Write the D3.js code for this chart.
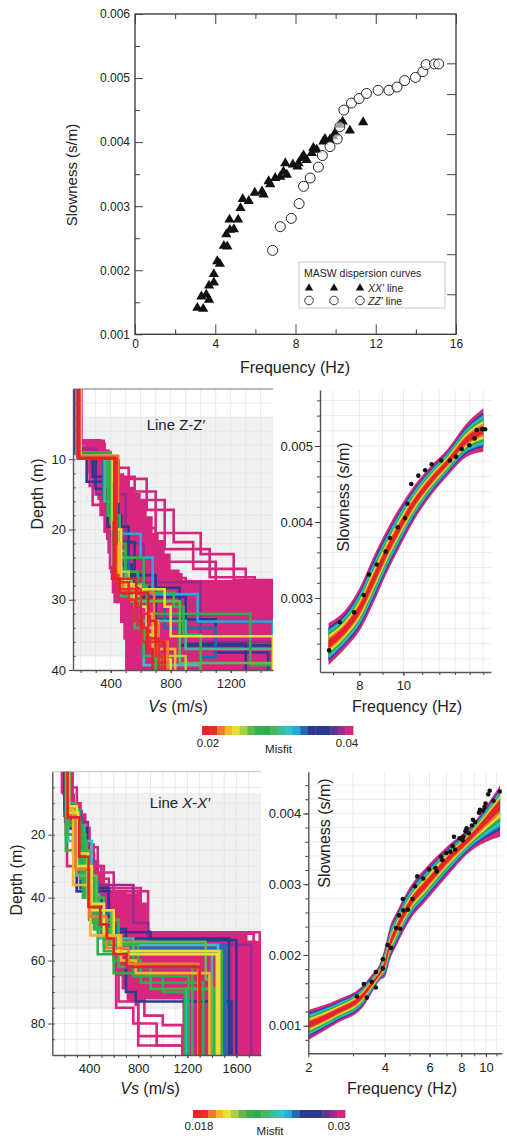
<!DOCTYPE html>
<html>
<head>
<meta charset="utf-8">
<script src="https://cdn.jsdelivr.net/npm/d3@7"></script>
<style>
  body { margin: 0; background: #fff; }
  svg { display: block; font-family: "Liberation Sans", Arial, Helvetica, sans-serif; }
</style>
</head>
<body>
<svg id="fig" width="507" height="1139"></svg>
<script>
// ---------------- MASW dispersion picks ----------------
const xxFreq = [3.11, 3.40, 3.31, 3.55, 3.69, 3.69, 3.93, 3.93, 4.10, 4.23, 4.43, 4.60, 4.55, 4.73, 4.93, 4.71,
  5.14, 5.26, 5.37, 5.67, 5.97, 6.33, 6.41, 6.66, 6.74, 6.99, 7.24, 7.40, 7.49, 7.57, 7.87, 8.15, 8.10, 8.31,
  8.40, 8.56, 8.81, 8.89, 9.06, 9.39, 9.47, 9.72, 9.88, 9.97, 10.21, 10.35, 10.71, 11.37];
const xxSlow = [0.001413, 0.001397, 0.00159, 0.00162, 0.00154, 0.00176, 0.00181, 0.00194, 0.00214, 0.00210,
  0.00238, 0.00237, 0.00256, 0.00263, 0.00264, 0.00279, 0.00279, 0.00297, 0.00311, 0.00308, 0.00321, 0.00323,
  0.00318, 0.00339, 0.00334, 0.00344, 0.00346, 0.00354, 0.00367, 0.00349, 0.00365, 0.00367, 0.00362, 0.00375,
  0.00379, 0.00372, 0.00383, 0.00391, 0.00388, 0.00401, 0.00405, 0.00404, 0.00409, 0.00414, 0.00427, 0.00432,
  0.00418, 0.00431];
const zzFreq = [6.86, 7.24, 7.79, 8.18, 8.40, 8.73, 9.14, 9.34, 9.72, 10.08, 10.21, 10.41, 10.79, 11.17, 11.54,
  12.12, 12.66, 13.06, 13.44, 13.98, 14.35, 14.51, 14.93, 15.14];
const zzSlow = [0.00231, 0.00268, 0.00281, 0.00304, 0.00331, 0.00344, 0.00361, 0.00379, 0.00393, 0.00405,
  0.00424, 0.00450, 0.00461, 0.00468, 0.00476, 0.00481, 0.00481, 0.00486, 0.00496, 0.00501, 0.00510, 0.00521,
  0.00522, 0.00522];

// top panel ticks
const topFreqTicks = [0, 4, 8, 12, 16];
const topFreqMinor = [2, 6, 10, 14];
const topSlowTicks = [0.001, 0.002, 0.003, 0.004, 0.005, 0.006];
const topSlowMinor = [0.0015, 0.0025, 0.0035, 0.0045, 0.0055];
const topRightTicks = [0.001625, 0.00225, 0.002875, 0.0035, 0.004125, 0.00475, 0.00523];

// ---------------- misfit colour scale ----------------
const misfitColors = ["#e5232a", "#e8312b", "#ee7b2b", "#f4b62b", "#eadd35", "#a9cf43", "#5fba47", "#38b14b",
  "#2cae4b", "#49b662", "#3fbb95", "#37bfca", "#27a8e0", "#1f6cb2", "#2b3990", "#2b3990", "#2d3a91",
  "#5b3795", "#9b2a8e", "#d7267e"];
const zzMisfitRange = [0.02, 0.04];
const xxMisfitRange = [0.018, 0.03];

// ---------------- Line Z-Z' inversion: Vs profiles ----------------
// envelope of the accepted model family (depth m, min Vs, max Vs)
const zzEnvDepth = [7.2, 8.6, 10, 12, 12.9, 13.9, 14.8, 15.8, 18.1, 20.5, 21.5, 23.4, 25.7, 26.2, 27.2, 29.1, 30.5, 33.3, 35.7, 40];
const zzEnvLeft  = [229, 229, 251, 273, 284, 302, 311, 324, 351, 369, 378, 387, 396, 400, 407, 418, 462, 484, 496, 502];
const zzEnvRight = [362, 396, 462, 490, 520, 560, 600, 640, 680, 720, 760, 800, 860, 880, 1482, 1482, 1482, 1482, 1482, 1482];
// individual models: misfit and layer list [top depth, Vs]
const zzProfileMisfit = [0.0395, 0.0395, 0.0395, 0.0395, 0.0395, 0.0385, 0.0355, 0.0362, 0.0335, 0.0325, 0.0315,
  0.0285, 0.0275, 0.0255, 0.0245, 0.0235, 0.0225, 0.0212, 0.0208, 0.0203,
  0.0345, 0.0305, 0.028, 0.0265, 0.024, 0.0218];
const zzProfileLayers = [
  [[0,170],[7.3,330],[12.5,560],[14.6,700],[20.5,1000],[23.5,1220],[27.2,1482]],
  [[0,205],[7.5,300],[12.8,640],[17.2,820],[21.8,950],[25.6,1300],[29,1400],[33,1482]],
  [[0,160],[8.8,260],[13.8,480],[19.8,700],[24.6,1100],[28.3,1482]],
  [[0,182],[7.8,360],[11.2,520],[15.8,760],[22.8,1060],[26.8,1360],[31.2,1200],[35,1482]],
  [[0,195],[8.2,280],[16.5,560],[23.2,740],[26.9,900],[28.6,1150],[32.5,1000],[37,1300]],
  [[0,175],[8.5,300],[15,500],[22,620],[27.5,1000],[36,1482]],
  [[0,165],[9.2,240],[13.2,380],[19.6,520],[26.5,700],[32.8,1100],[37.5,1450]],
  [[0,178],[9.5,300],[14.2,450],[21.8,560],[29.6,900],[36.3,1300]],
  [[0,186],[9.6,350],[15.5,420],[24,520],[29,760],[34,1100],[38.2,1000]],
  [[0,190],[9.7,420],[17,440],[20.6,600],[24,680],[29.2,980],[33.1,1482]],
  [[0,172],[9.4,380],[14,410],[25,470],[28,560],[31,640],[36,620],[39.3,1000]],
  [[0,200],[9,400],[15,420],[22,500],[26,580],[28,640],[32,1330],[39.3,1482]],
  [[0,185],[9.8,380],[18,460],[24,620],[29,820],[31,885],[35,1000]],
  [[0,195],[9.6,410],[20,450],[26,520],[29.5,600],[34,700],[38,900]],
  [[0,200],[9.5,420],[13,440],[20,470],[27,500],[28.5,760],[31,800],[35.2,1482]],
  [[0,190],[9.8,440],[22,460],[28,600],[32,680],[37,830]],
  [[0,195],[9.5,450],[16,440],[27,480],[29,690],[33,720],[36,780]],
  [[0,190],[9.9,440],[22,430],[27.5,520],[30,560],[33,610],[36,700],[38,740]],
  [[0,180],[9.8,425],[27,460],[29,650],[33,700],[36,760]],
  [[0,185],[9.9,430],[19,420],[27,570],[31,600],[34,640],[37,680]],
  [[0,175],[9.2,280],[12.5,400],[18,470],[25,540],[28.3,860],[36.5,1482]],
  [[0,188],[9.6,360],[16,430],[23,500],[27.8,600],[33,900],[37,1482]],
  [[0,192],[9.7,400],[19,440],[26.5,470],[29.5,560],[34,620],[38,700]],
  [[0,180],[9.8,420],[21,450],[27.2,540],[30.2,860],[39,1482]],
  [[0,186],[9.9,435],[24,455],[27.8,560],[31,640],[35,720],[38.5,800]],
  [[0,183],[9.9,430],[26.5,450],[28.5,600],[32,650],[35.5,720]]
];

// ---------------- Line X-X' inversion: Vs profiles ----------------
const xxEnvDepth = [0, 3.2, 6.9, 10, 12.1, 13.2, 17.4, 22.7, 28, 32.2, 33.3, 35.4, 37.6, 38.6, 41.7, 42.8, 47, 48.1, 50.2, 50.7, 51.2, 53.8, 55.5, 61.8, 65, 69.2, 72.4, 90];
const xxEnvLeft  = [168, 168, 217, 230, 244, 255, 285, 320, 352, 365, 374, 378, 385, 390, 405, 412, 474, 480, 569, 575, 585, 595, 601, 623, 664, 705, 1160, 1160];
const xxEnvRight = [276, 276, 285, 325, 350, 379, 412, 447, 482, 515, 525, 569, 705, 813, 854, 860, 875, 881, 900, 908, 1681, 1800, 1800, 1800, 1800, 1800, 1800, 1800];
const xxProfileMisfit = [0.0297, 0.0297, 0.0297, 0.0297, 0.0297, 0.0297, 0.0297, 0.0297, 0.029, 0.027, 0.0275,
  0.026, 0.0248, 0.024, 0.022, 0.0225, 0.023, 0.0222, 0.0228, 0.0207, 0.0201, 0.0195, 0.0185,
  0.0222, 0.0205, 0.0262, 0.0272, 0.0297, 0.0232];
const xxProfileLayers = [
  [[0,190],[7,250],[18,400],[38,880],[51,1790]],
  [[0,215],[10,330],[24,470],[37,820],[52,1680]],
  [[0,200],[12,290],[30,520],[42,860],[54,1750]],
  [[0,230],[15,360],[34,560],[50,780],[74,800],[84,1160]],
  [[0,210],[20,400],[42,700],[56,620],[75,760],[80,950],[87,1190]],
  [[0,220],[30,500],[52,640],[73,800],[87,1160]],
  [[0,250],[5,300],[38,800],[52,1660]],
  [[0,240],[9,270],[26,440],[46,660],[60,720],[72.5,850],[77.5,1000],[80.5,1160]],
  [[0,205],[16,390],[36,760],[48,880],[55,1720]],
  [[0,215],[18,380],[40,500],[50,700],[70,780],[73,1560]],
  [[0,200],[14,330],[37,560],[51,900],[53.5,1600]],
  [[0,225],[13,330],[28,430],[45,600],[55,1510]],
  [[0,230],[22,420],[42,520],[55,1450],[69,1190]],
  [[0,220],[17,360],[39,480],[53,760],[58,1400]],
  [[0,240],[14,300],[33,460],[44,580],[54,1350],[66,1400]],
  [[0,220],[20,370],[40,520],[57,1480]],
  [[0,225],[17,350],[40,470],[58,760],[65,1210]],
  [[0,210],[25,400],[47,640],[62,900],[69,1420]],
  [[0,230],[12,320],[30,430],[48,600],[60,820],[67,1330]],
  [[0,230],[11,300],[30,420],[44,600],[57,1460]],
  [[0,220],[12,270],[36,410],[52,660],[60,780],[64,1380]],
  [[0,215],[14,290],[31,400],[46,540],[56,720],[61,1290]],
  [[0,225],[14.5,320],[27,395],[43,490],[48.5,545],[53,600],[58,705],[62,1300]],
  [[0,235],[10,290],[22,380],[38,450],[50,560],[55,800],[62,1240]],
  [[0,225],[13,310],[26,390],[42,520],[52,640],[58,1440]],
  [[0,215],[15,340],[35,470],[49,620],[56,1500]],
  [[0,205],[12,300],[38,560],[53,1540]],
  [[0,235],[10,310],[32,600],[44,850],[51.5,1740]],
  [[0,228],[16,330],[34,440],[50,600],[64,1000],[70,1180]]
];

// ---------------- modelled dispersion bands ----------------
const zzBandFreq = [6.84, 7.50, 8.03, 8.59, 9.19, 9.83, 10.52, 11.45, 12.46, 13.79, 15.0];
const zzBandHigh = [0.002667, 0.002864, 0.003149, 0.003544, 0.003895, 0.004202, 0.004465, 0.004728, 0.004947, 0.005298, 0.005496];
const zzBandLow  = [0.002118, 0.002359, 0.002579, 0.00293, 0.003325, 0.003675, 0.004004, 0.004333, 0.004596, 0.004859, 0.004925];
const zzBandBest = [0.002395, 0.002614, 0.002864, 0.003237, 0.003609, 0.003938, 0.004237, 0.00453, 0.004772, 0.005079, 0.005211];
const xxBandFreq = [2.0, 2.59, 3.29, 3.55, 3.83, 4.01, 4.19, 4.46, 5.03, 5.85, 7.01, 8.66, 11.37];
const xxBandHigh = [0.001222, 0.001363, 0.001575, 0.001716, 0.001881, 0.002116, 0.002398, 0.00261, 0.002963, 0.003246, 0.003528, 0.003811, 0.0044];
const xxBandLow  = [0.000798, 0.001034, 0.001268, 0.001457, 0.001645, 0.001692, 0.001928, 0.00214, 0.002493, 0.002775, 0.003105, 0.003458, 0.00367];
const xxBandBest = [0.00101, 0.001198, 0.001434, 0.001589, 0.00174, 0.001881, 0.00214, 0.002376, 0.002729, 0.003011, 0.00334, 0.003661, 0.004141];
// misfit class of each nested band layer (index in the colour bar) and its relative spread
const bandLayerClass = [19, 15, 13, 12, 11, 8, 4, 2, 0];
const bandLayerSpread = [1.0, 0.8, 0.74, 0.68, 0.62, 0.55, 0.42, 0.3, 0.2];

// ---------------- drawing ----------------
const svg = d3.select("#fig");
const ink = "#222";
let clipId = 0;

function clipRect(x, y, w, h) {
  const id = "clip" + (clipId++);
  svg.append("clipPath").attr("id", id).append("rect").attr("x", x).attr("y", y).attr("width", w).attr("height", h);
  return "url(#" + id + ")";
}
function styleAxis(sel, fs) {
  sel.selectAll("text").attr("font-size", fs).attr("fill", ink);
  sel.selectAll(".tick line").attr("stroke", "#444");
  sel.select(".domain").attr("stroke", "#555").attr("stroke-width", 1.4);
}
function noDomain(sel) { sel.select(".domain").remove(); }

// ===== Top: dispersion picks =====
(function () {
  const x = d3.scaleLinear().domain([0, 16]).range([135, 456]);
  const y = d3.scaleLinear().domain([0.001, 0.006]).range([334.3, 14]);
  const g = svg.append("g");
  g.append("rect").attr("x", 135).attr("y", 14).attr("width", 321).attr("height", 320.3)
    .attr("fill", "none").attr("stroke", "#333").attr("stroke-width", 1.3);

  g.append("g").attr("transform", "translate(0,334.3)")
    .call(d3.axisBottom(x).tickValues(topFreqTicks).tickSize(-10).tickPadding(5).tickFormat(d3.format("d")))
    .call(noDomain).call(s => styleAxis(s, 12));
  g.append("g").attr("transform", "translate(0,334.3)")
    .call(d3.axisBottom(x).tickValues(topFreqMinor).tickSize(-5).tickFormat(() => "")).call(noDomain).call(s => styleAxis(s, 12));
  g.append("g").attr("transform", "translate(0,14)")
    .call(d3.axisTop(x).tickValues(topFreqTicks).tickSize(-10).tickFormat(() => "")).call(noDomain).call(s => styleAxis(s, 12));
  g.append("g").attr("transform", "translate(0,14)")
    .call(d3.axisTop(x).tickValues(topFreqMinor).tickSize(-5).tickFormat(() => "")).call(noDomain).call(s => styleAxis(s, 12));
  g.append("g").attr("transform", "translate(135,0)")
    .call(d3.axisLeft(y).tickValues(topSlowTicks).tickSize(-8).tickPadding(5).tickFormat(d3.format(".3f")))
    .call(noDomain).call(s => styleAxis(s, 12));
  g.append("g").attr("transform", "translate(135,0)")
    .call(d3.axisLeft(y).tickValues(topSlowMinor).tickSize(-5).tickFormat(() => "")).call(noDomain).call(s => styleAxis(s, 12));
  g.append("g").attr("transform", "translate(456,0)")
    .call(d3.axisRight(y).tickValues(topRightTicks).tickSize(-9).tickFormat(() => "")).call(noDomain).call(s => styleAxis(s, 12));

  g.append("text").attr("x", 295).attr("y", 373).attr("text-anchor", "middle").attr("font-size", 16).attr("fill", ink)
    .text("Frequency (Hz)");
  g.append("text").attr("transform", "translate(77,175) rotate(-90)").attr("text-anchor", "middle")
    .attr("font-size", 15).attr("fill", ink).text("Slowness (s/m)");

  const tri = d3.symbol(d3.symbolTriangle, 46);
  g.append("g").selectAll("path").data(d3.range(xxFreq.length)).join("path")
    .attr("transform", i => `translate(${x(xxFreq[i])},${y(xxSlow[i])})`).attr("d", tri).attr("fill", "#111");
  g.append("g").selectAll("circle").data(d3.range(zzFreq.length)).join("circle")
    .attr("cx", i => x(zzFreq[i])).attr("cy", i => y(zzSlow[i])).attr("r", 5)
    .attr("fill", "#fff").attr("fill-opacity", 0.6).attr("stroke", "#222").attr("stroke-width", 1);

  // legend
  const lg = g.append("g");
  lg.append("rect").attr("x", 299).attr("y", 262).attr("width", 146).attr("height", 46)
    .attr("fill", "#fff").attr("stroke", "#c8c8c8").attr("stroke-width", 1);
  lg.append("text").attr("x", 304).attr("y", 277).attr("font-size", 10.5).attr("fill", ink).text("MASW dispersion curves");
  [309, 334, 360].forEach(px => {
    lg.append("path").attr("transform", `translate(${px},288)`).attr("d", d3.symbol(d3.symbolTriangle, 30)).attr("fill", "#111");
    lg.append("circle").attr("cx", px).attr("cy", 300.5).attr("r", 4.3).attr("fill", "#fff").attr("stroke", "#222").attr("stroke-width", 0.9);
  });
  const t1 = lg.append("text").attr("x", 368).attr("y", 292).attr("font-size", 10.5).attr("fill", ink);
  t1.append("tspan").attr("font-style", "italic").text("XX′");
  t1.append("tspan").text(" line");
  const t2 = lg.append("text").attr("x", 368).attr("y", 305).attr("font-size", 10.5).attr("fill", ink);
  t2.append("tspan").attr("font-style", "italic").text("ZZ′");
  t2.append("tspan").text(" line");
})();

// ===== Vs profile panel =====
function profilePanel(o) {
  const x = d3.scaleLinear().domain(o.vel).range([o.left, o.right]);
  const y = d3.scaleLinear().domain([0, o.maxDepth]).range([o.top, o.bottom]);
  const color = d3.scaleQuantize().domain(o.misfitRange).range(misfitColors);
  const g = svg.append("g");
  const w = o.right - o.left, h = o.bottom - o.top;

  g.append("rect").attr("x", o.left).attr("y", y(o.shade[0])).attr("width", w)
    .attr("height", y(o.shade[1]) - y(o.shade[0])).attr("fill", "#f1f1f1");
  const grid = g.append("g").attr("stroke", "#e2e2e2").attr("stroke-width", 0.7);
  grid.selectAll("line.v").data(o.gridVel).join("line").attr("class", "v")
    .attr("x1", d => x(d)).attr("x2", d => x(d)).attr("y1", o.top).attr("y2", o.bottom);
  grid.selectAll("line.h").data(o.gridDepth).join("line").attr("class", "h")
    .attr("x1", o.left).attr("x2", o.right).attr("y1", d => y(d)).attr("y2", d => y(d));
  g.append("line").attr("x1", o.left).attr("x2", o.right).attr("y1", o.top).attr("y2", o.top)
    .attr("stroke", o.topLine).attr("stroke-width", 1.2);

  const clip = clipRect(o.left, o.top, w, h);
  const plot = g.append("g").attr("clip-path", clip);

  const env = d3.range(o.envDepth.length).map(i => [o.envDepth[i], o.envLeft[i], o.envRight[i]]);
  plot.append("path")
    .attr("d", d3.area().y(d => y(d[0])).x0(d => x(d[1])).x1(d => x(d[2])).curve(d3.curveStepBefore)(env))
    .attr("fill", misfitColors[19]);

  const line = d3.line().x(d => x(d[1])).y(d => y(d[0])).curve(d3.curveStepBefore);
  const order = d3.range(o.misfit.length).sort((a, b) => o.misfit[b] - o.misfit[a]);
  plot.selectAll("path.prof").data(order).join("path").attr("class", "prof")
    .attr("d", i => {
      const L = o.layers[i];
      return line(L.concat([[o.maxDepth + 2, L[L.length - 1][1]]]));
    })
    .attr("fill", "none").attr("stroke", i => color(o.misfit[i])).attr("stroke-width", 2.6);

  g.append("g").attr("transform", `translate(${o.left},0)`)
    .call(d3.axisLeft(y).tickValues(o.depthMinor).tickSize(-2.5).tickFormat(() => "")).call(noDomain).call(s => styleAxis(s, 13));
  g.append("g").attr("transform", `translate(0,${o.bottom})`)
    .call(d3.axisBottom(x).tickValues(o.velMinor).tickSize(3).tickFormat(() => "")).call(noDomain).call(s => styleAxis(s, 13));
  g.append("g").attr("transform", `translate(${o.left},0)`)
    .call(d3.axisLeft(y).tickValues(o.depthTicks).tickSize(4).tickSizeOuter(0).tickPadding(3).tickFormat(d3.format("d")))
    .call(s => styleAxis(s, 13));
  g.append("g").attr("transform", `translate(0,${o.bottom})`)
    .call(d3.axisBottom(x).tickValues(o.velTicks).tickSize(3).tickSizeOuter(0).tickPadding(6).tickFormat(d3.format("d")))
    .call(s => styleAxis(s, 13));

  const lab = g.append("text").attr("x", o.labelPos[0]).attr("y", o.labelPos[1]).attr("text-anchor", "middle")
    .attr("font-size", 15).attr("fill", ink);
  lab.append("tspan").text("Line ");
  o.lineName.forEach(part => lab.append("tspan").attr("font-style", part[1] ? "italic" : null).text(part[0]));

  const xl = g.append("text").attr("x", o.xTitle[0]).attr("y", o.xTitle[1]).attr("text-anchor", "middle")
    .attr("font-size", 16).attr("fill", ink);
  xl.append("tspan").attr("font-style", "italic").text("Vs");
  xl.append("tspan").text(" (m/s)");
  g.append("text").attr("transform", `translate(${o.yTitle[0]},${o.yTitle[1]}) rotate(-90)`).attr("text-anchor", "middle")
    .attr("font-size", 16).attr("fill", ink).text("Depth (m)");
}

// ===== dispersion fit panel =====
function fitPanel(o) {
  const x = d3.scaleLog().domain(o.freq).range([o.left, o.right]);
  const y = d3.scaleLinear().domain(o.slow).range([o.bottom, o.top]);
  const g = svg.append("g");
  const grid = g.append("g").attr("stroke", "#e4e4e4").attr("stroke-width", 0.7);
  grid.selectAll("line.v").data(o.gridFreq).join("line").attr("class", "v")
    .attr("x1", d => x(d)).attr("x2", d => x(d)).attr("y1", o.top).attr("y2", o.bottom);
  grid.selectAll("line.h").data(o.gridSlow).join("line").attr("class", "h")
    .attr("x1", o.left).attr("x2", o.right).attr("y1", d => y(d)).attr("y2", d => y(d));

  const clip = clipRect(o.left, o.top, o.right - o.left, o.bottom - o.top);
  const plot = g.append("g").attr("clip-path", clip);
  const n = o.bandFreq.length;
  bandLayerClass.forEach((ci, k) => {
    const s = bandLayerSpread[k];
    const pts = d3.range(n).map(i => ({
      f: o.bandFreq[i],
      hi: o.bandBest[i] + (o.bandHigh[i] - o.bandBest[i]) * s,
      lo: o.bandBest[i] - (o.bandBest[i] - o.bandLow[i]) * s
    }));
    plot.append("path")
      .attr("d", d3.area().x(d => x(d.f)).y0(d => y(d.lo)).y1(d => y(d.hi)).curve(d3.curveMonotoneX)(pts))
      .attr("fill", misfitColors[ci]);
  });
  plot.selectAll("circle").data(d3.range(o.ptFreq.length)).join("circle")
    .attr("cx", i => x(o.ptFreq[i])).attr("cy", i => y(o.ptSlow[i])).attr("r", 2.3).attr("fill", "#111");

  g.append("g").attr("transform", `translate(${o.left},0)`)
    .call(d3.axisLeft(y).tickValues(o.gridSlow).tickSize(3).tickFormat(() => "")).call(noDomain).call(s => styleAxis(s, 13));
  g.append("g").attr("transform", `translate(0,${o.bottom})`)
    .call(d3.axisBottom(x).tickValues(o.gridFreq).tickSize(3).tickFormat(() => "")).call(noDomain).call(s => styleAxis(s, 13));
  g.append("g").attr("transform", `translate(${o.left},0)`)
    .call(d3.axisLeft(y).tickValues(o.slowTicks).tickSize(5).tickSizeOuter(0).tickPadding(2).tickFormat(d3.format(".3f")))
    .call(s => styleAxis(s, 13));
  g.append("g").attr("transform", `translate(0,${o.bottom})`)
    .call(d3.axisBottom(x).tickValues(o.freqTicks).tickSize(4).tickSizeOuter(0).tickPadding(5).tickFormat(d3.format("d")))
    .call(s => styleAxis(s, 13));

  g.append("text").attr("x", o.xTitle[0]).attr("y", o.xTitle[1]).attr("text-anchor", "middle")
    .attr("font-size", 16).attr("fill", ink).text("Frequency (Hz)");
  g.append("text").attr("transform", `translate(${o.yTitle[0]},${o.yTitle[1]}) rotate(-90)`).attr("text-anchor", "middle")
    .attr("font-size", 16).attr("fill", ink).text("Slowness (s/m)");
}

// ===== colour bar =====
function colorBar(o) {
  const x = d3.scaleBand().domain(d3.range(misfitColors.length)).range([o.x0, o.x1]);
  const g = svg.append("g");
  g.selectAll("rect").data(misfitColors).join("rect")
    .attr("x", (d, i) => x(i)).attr("y", o.y).attr("width", x.bandwidth() + 0.4).attr("height", o.h).attr("fill", d => d);
  g.append("text").attr("x", o.x0 + 6).attr("y", o.y + o.h + 12).attr("text-anchor", "middle").attr("font-size", 11.5)
    .attr("fill", ink).text(o.labels[0]);
  g.append("text").attr("x", o.x1 - 6).attr("y", o.y + o.h + 12).attr("text-anchor", "middle").attr("font-size", 11.5)
    .attr("fill", ink).text(o.labels[1]);
  g.append("text").attr("x", (o.x0 + o.x1) / 2 + 1).attr("y", o.y + o.h + o.misfitDy).attr("text-anchor", "middle")
    .attr("font-size", 11.5).attr("fill", ink).text("Misfit");
}

// Line Z-Z'
profilePanel({
  left: 73, right: 273, top: 389, bottom: 670, vel: [149, 1482], maxDepth: 40,
  shade: [4, 38], gridVel: d3.range(200, 1500, 100), gridDepth: d3.range(2, 40, 2),
  topLine: "#777", misfitRange: zzMisfitRange,
  envDepth: zzEnvDepth, envLeft: zzEnvLeft, envRight: zzEnvRight,
  misfit: zzProfileMisfit, layers: zzProfileLayers,
  depthTicks: [10, 20, 30, 40], depthMinor: d3.range(2, 40, 2),
  velTicks: [400, 800, 1200], velMinor: d3.range(200, 1500, 100),
  labelPos: [176, 430], lineName: [["Z-Z′", false]],
  xTitle: [178, 712], yTitle: [43, 494]
});
fitPanel({
  left: 320, right: 491, top: 390, bottom: 672, freq: [6.55, 15.6], slow: [0.002026, 0.005737],
  gridFreq: [7, 8, 9, 10, 11, 12, 13, 14, 15], gridSlow: d3.range(0.0022, 0.00571, 0.0002),
  bandFreq: zzBandFreq, bandHigh: zzBandHigh, bandLow: zzBandLow, bandBest: zzBandBest,
  ptFreq: zzFreq, ptSlow: zzSlow,
  slowTicks: [0.003, 0.004, 0.005], freqTicks: [8, 10],
  xTitle: [407, 712], yTitle: [349, 497]
});
colorBar({ x0: 202, x1: 353, y: 726, h: 9, labels: ["0.02", "0.04"], misfitDy: 18 });

// Line X-X'
profilePanel({
  left: 52.3, right: 261, top: 771.7, bottom: 1055, vel: [100, 1800], maxDepth: 90,
  shade: [6.7, 75.5], gridVel: d3.range(200, 1800, 100), gridDepth: d3.range(5, 90, 5),
  topLine: "#d0d0d0", misfitRange: xxMisfitRange,
  envDepth: xxEnvDepth, envLeft: xxEnvLeft, envRight: xxEnvRight,
  misfit: xxProfileMisfit, layers: xxProfileLayers,
  depthTicks: [20, 40, 60, 80], depthMinor: d3.range(5, 90, 5),
  velTicks: [400, 800, 1200, 1600], velMinor: d3.range(200, 1800, 100),
  labelPos: [180, 808], lineName: [["X", true], ["-", false], ["X′", true]],
  xTitle: [150, 1094], yTitle: [22, 880]
});
fitPanel({
  left: 308.3, right: 501.7, top: 771.7, bottom: 1053.3, freq: [2, 11.54], slow: [0.00061, 0.00459],
  gridFreq: [3, 4, 5, 6, 7, 8, 9, 10, 11], gridSlow: d3.range(0.0008, 0.00459, 0.0002),
  bandFreq: xxBandFreq, bandHigh: xxBandHigh, bandLow: xxBandLow, bandBest: xxBandBest,
  ptFreq: xxFreq, ptSlow: xxSlow,
  slowTicks: [0.001, 0.002, 0.003, 0.004], freqTicks: [2, 4, 6, 8, 10],
  xTitle: [402, 1094], yTitle: [330, 833]
});
colorBar({ x0: 193, x1: 345, y: 1110, h: 8, labels: ["0.018", "0.03"], misfitDy: 16.5 });
</script>
</body>
</html>
